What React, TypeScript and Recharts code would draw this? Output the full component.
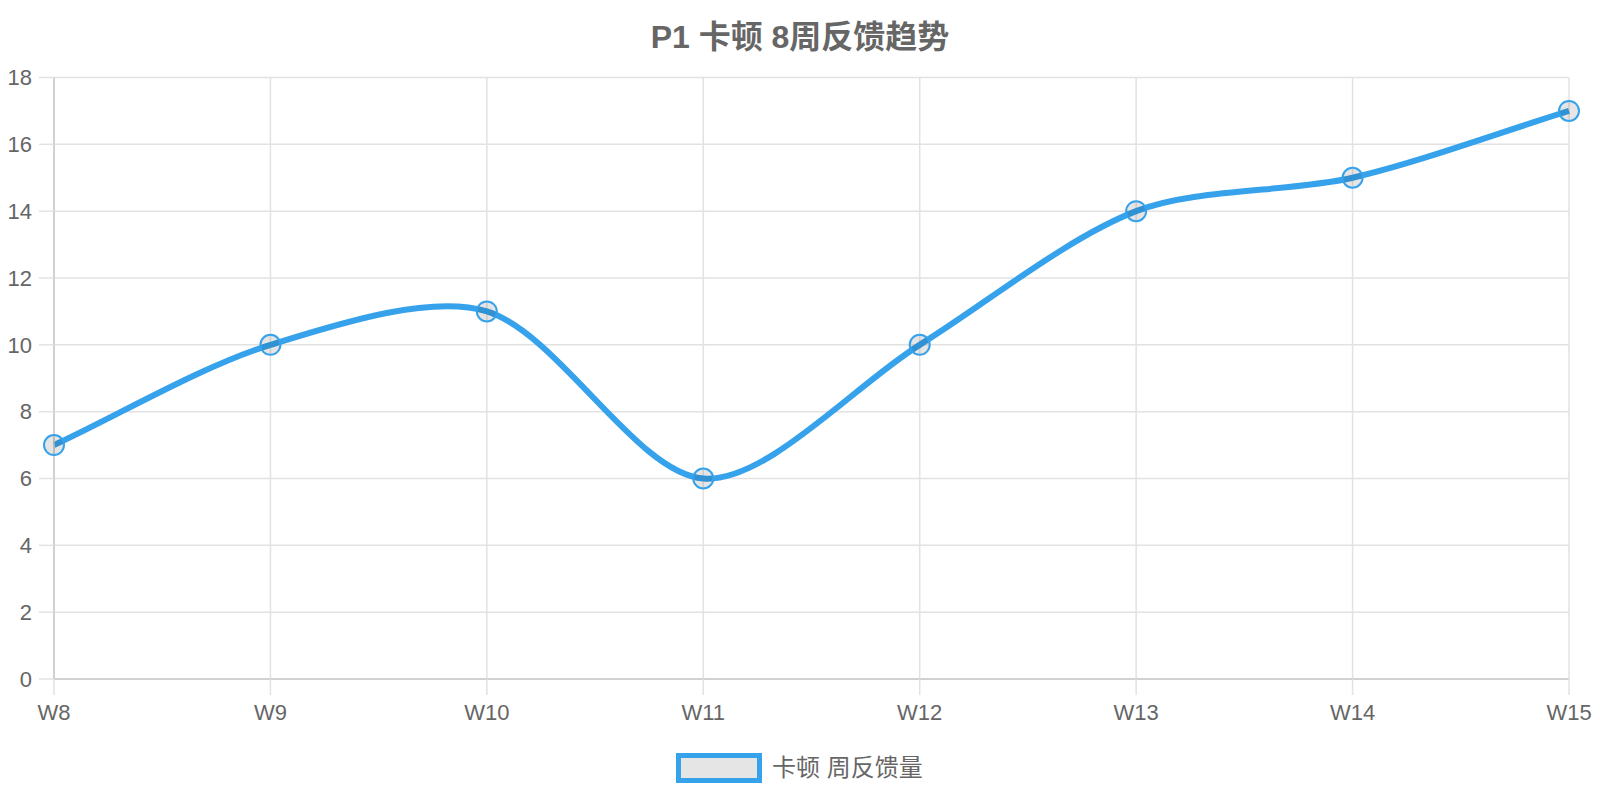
import React from 'react';
import { LineChart, Line, XAxis, YAxis, CartesianGrid } from 'recharts';

const weeks = ['W8', 'W9', 'W10', 'W11', 'W12', 'W13', 'W14', 'W15'];
const feedback = [7, 10, 11, 6, 10, 14, 15, 17];
const yTicks = [0, 2, 4, 6, 8, 10, 12, 14, 16, 18];

const SERIES_NAME = '卡顿 周反馈量';
const TITLE = 'P1 卡顿 8周反馈趋势';
const BLUE = '#36a2eb';
const FONT = "'Liberation Sans', Arial, Helvetica, 'Noto Sans CJK SC', sans-serif";

const data = weeks.map((w, i) => ({ week: w, value: feedback[i] }));

// Chart.js style spline (tension 0.3) as a d3 curve factory
function splineCurve(context: any) {
  let pts: [number, number][] = [];
  const t = 0.3;
  return {
    areaStart() {},
    areaEnd() {},
    lineStart() {
      pts = [];
    },
    point(x: number, y: number) {
      pts.push([+x, +y]);
    },
    lineEnd() {
      const n = pts.length;
      if (!n) return;
      const ctrl = pts.map((cur, i) => {
        const prev = i > 0 ? pts[i - 1] : cur;
        const next = i < n - 1 ? pts[i + 1] : cur;
        const d01 = Math.hypot(cur[0] - prev[0], cur[1] - prev[1]);
        const d12 = Math.hypot(next[0] - cur[0], next[1] - cur[1]);
        let s01 = d01 / (d01 + d12);
        let s12 = d12 / (d01 + d12);
        if (isNaN(s01)) s01 = 0;
        if (isNaN(s12)) s12 = 0;
        const fa = t * s01;
        const fb = t * s12;
        return {
          px: cur[0] - fa * (next[0] - prev[0]),
          py: cur[1] - fa * (next[1] - prev[1]),
          nx: cur[0] + fb * (next[0] - prev[0]),
          ny: cur[1] + fb * (next[1] - prev[1]),
        };
      });
      context.moveTo(pts[0][0], pts[0][1]);
      for (let i = 1; i < n; i++) {
        context.bezierCurveTo(ctrl[i - 1].nx, ctrl[i - 1].ny, ctrl[i].px, ctrl[i].py, pts[i][0], pts[i][1]);
      }
    },
  };
}

export default function App() {
  return (
    <div style={{ position: 'absolute', left: 0, top: 0, width: 1600, height: 800, background: '#fff', fontFamily: FONT }}>
      <div style={{
        position: 'absolute', left: 0, width: 1600, top: 17, textAlign: 'center',
        fontSize: 32, fontWeight: 700, color: '#666', lineHeight: '40px',
      }}>
        {TITLE}
      </div>
      <LineChart
        width={1600}
        height={800}
        data={data}
        margin={{ top: 77.5, right: 31, left: 0, bottom: 61 }}
      >
        <CartesianGrid stroke="#e2e2e2" strokeWidth={1.5} />
        <XAxis
          dataKey="week"
          height={60}
          tickSize={16}
          tickMargin={9}
          tick={{ fill: '#666', fontSize: 22, fontFamily: FONT }}
          tickLine={{ stroke: '#e2e2e2', strokeWidth: 1.5 }}
          axisLine={{ stroke: '#c8c8c8', strokeWidth: 1.5 }}
          interval={0}
        />
        <YAxis
          width={54}
          domain={[0, 18]}
          ticks={yTicks}
          tickSize={15}
          tickMargin={7}
          tick={{ fill: '#666', fontSize: 22, fontFamily: FONT }}
          tickLine={{ stroke: '#e2e2e2', strokeWidth: 1.5 }}
          axisLine={{ stroke: '#c8c8c8', strokeWidth: 1.5 }}
          interval={0}
        />
        <Line
          dataKey="value"
          name={SERIES_NAME}
          type={splineCurve as any}
          stroke={BLUE}
          strokeWidth={6}
          dot={{ r: 10, fill: 'rgba(0,0,0,0.1)', stroke: BLUE, strokeWidth: 2 }}
          activeDot={false}
          isAnimationActive={false}
        />
      </LineChart>
      <div style={{ position: 'absolute', left: 676, top: 753, display: 'flex', alignItems: 'center', height: 30 }}>
        <div style={{
          boxSizing: 'border-box', width: 86, height: 30, border: `5px solid ${BLUE}`,
          background: 'rgba(0,0,0,0.1)',
        }} />
        <span style={{ marginLeft: 10, fontSize: 24, color: '#666', lineHeight: '30px' }}>{SERIES_NAME}</span>
      </div>
    </div>
  );
}
